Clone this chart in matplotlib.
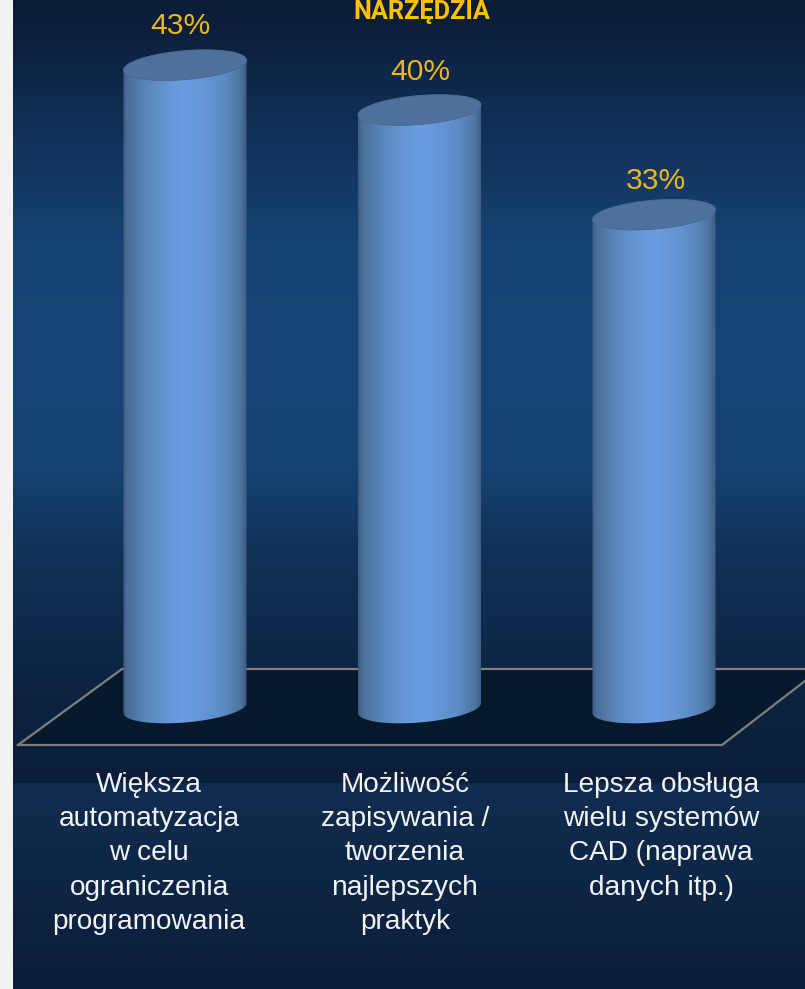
import numpy as np
import matplotlib
matplotlib.use('Agg')
import matplotlib.pyplot as plt
from matplotlib.colors import LinearSegmentedColormap
from matplotlib.patches import Polygon, PathPatch
from matplotlib.path import Path

# dane wykresu
categories = ['Większa\nautomatyzacja\nw celu\nograniczenia\nprogramowania',
              'Możliwość\nzapisywania /\ntworzenia\nnajlepszych\npraktyk',
              'Lepsza obsługa\nwielu systemów\nCAD (naprawa\ndanych itp.)']
values = [43, 40, 33]
value_labels = ['43%', '40%', '33%']
title = 'NARZĘDZIA'

W, H = 805, 989
BAR_W = 0.525
PX_X = 234.5      # piksele na kategorie
PX_Y = 14.95      # piksele na punkt procentowy
TILT = 5 / PX_Y
ELL_H = 14.5 / PX_Y
FONT = ['Liberation Sans', 'DejaVu Sans']

body_cmap = LinearSegmentedColormap.from_list('body', [
    (0.0, '#3c5a7e'), (0.03, '#4a6d98'), (0.2, '#5a88bd'), (0.38, '#6698d8'), (0.5, '#6a9de0'),
    (0.65, '#6597d8'), (0.82, '#5c8bc2'), (0.95, '#4d749f'), (1.0, '#3c5a7e')])

# duzo poziomow, zeby uskok tla nie rozmywal sie na pasy
bg_cmap = LinearSegmentedColormap.from_list('bg', [
    (0 / H, '#0a1b36'), (30 / H, '#0b1f3c'), (120 / H, '#102e55'), (240 / H, '#154272'),
    (350 / H, '#164477'), (467 / H, '#154272'), (560 / H, '#103055'), (694 / H, '#0c2341'),
    (783.5 / H, '#0a1e39'), (784 / H, '#112c50'), (880 / H, '#0e2645'), (1.0, '#0a1d38')], N=H * 2)


def draw_background(ax):
    grad = np.linspace(0, 1, H).reshape(-1, 1)
    ax.imshow(grad, cmap=bg_cmap, extent=(13, W, H, 0), aspect='auto', zorder=0,
              interpolation='nearest')
    ax.add_patch(plt.Rectangle((0, 0), 13, H, color='#f2f2f2', lw=0, zorder=1))

    # podloga wykresu
    floor = [(18, 745), (122, 669), (W, 669), (W, 681), (722, 745)]
    ax.add_patch(Polygon(floor, closed=True, fc='#06182c', ec='none', zorder=1))
    ax.plot([18, 122, W], [745, 669, 669], color='#7f7f7f', lw=1.6, zorder=2)
    ax.plot([18, 722, W], [745, 745, 681], color='#7f7f7f', lw=1.6, zorder=2)


def draw_cylinder(ax, x, value):
    t = np.linspace(np.pi, 2 * np.pi, 80)
    half = BAR_W / 2
    ex = x + half * np.cos(t)
    lower = TILT * np.cos(t) + ELL_H * np.sin(t)

    # boczna sciana: dolny luk i gorny luk
    verts = list(zip(ex, lower)) + list(zip(ex[::-1], value + lower[::-1]))
    clip = PathPatch(Path(verts + [verts[0]]), transform=ax.transData, fc='none', ec='none')
    ax.add_patch(clip)
    im = ax.imshow(np.linspace(0, 1, 256).reshape(1, -1), cmap=body_cmap, aspect='auto',
                   extent=(x - half, x + half, -2, value + 2), zorder=3)
    im.set_clip_path(clip)

    # gorna pokrywa
    t2 = np.linspace(0, 2 * np.pi, 160)
    top = np.column_stack([x + half * np.cos(t2),
                           value + TILT * np.cos(t2) + ELL_H * np.sin(t2)])
    ax.add_patch(Polygon(top, closed=True, fc='#4d719c', ec='#4a6c96', lw=0.6, zorder=4))


def main():
    fig = plt.figure(figsize=(W / 100, H / 100), dpi=100)

    bg = fig.add_axes([0, 0, 1, 1])
    bg.set_xlim(0, W)
    bg.set_ylim(H, 0)
    draw_background(bg)
    bg.set_xlim(0, W)
    bg.set_ylim(H, 0)
    bg.axis('off')

    # os wartosci: 0% na y=708, srodki slupkow co 234.5 px
    ax = fig.add_axes([0, 0, 1, 1], facecolor='none')
    for i, v in enumerate(values):
        draw_cylinder(ax, i, v)
    ax.set_xlim(-185 / PX_X, (W - 185) / PX_X)
    ax.set_ylim((708 - H) / PX_Y, 708 / PX_Y)
    ax.axis('off')

    label_shift = [-4.5, 1, 2]
    label_gap = [39, 38, 34]
    for i, v in enumerate(values):
        ax.annotate(value_labels[i], (i, v), xytext=(label_shift[i] * 0.72, label_gap[i] * 0.72),
                    textcoords='offset points', ha='center', va='center',
                    color='#e8b81c', fontsize=21.6, family=FONT, zorder=5)

    # podpisy kategorii
    label_x = [149, 405, 661]
    for x, cat in zip(label_x, categories):
        bg.text(x, 772, cat, ha='center', va='top', color='#f2f5f8', fontsize=20.2,
                family=FONT, linespacing=1.41, zorder=5)

    bg.text(422, 19, title, ha='center', va='baseline', color='#ffc000', fontsize=18.2,
            fontweight='bold', family=['Roboto', 'Liberation Sans', 'DejaVu Sans'], zorder=5)

    fig.savefig('out.png', dpi=100)


if __name__ == "__main__":
    main()
